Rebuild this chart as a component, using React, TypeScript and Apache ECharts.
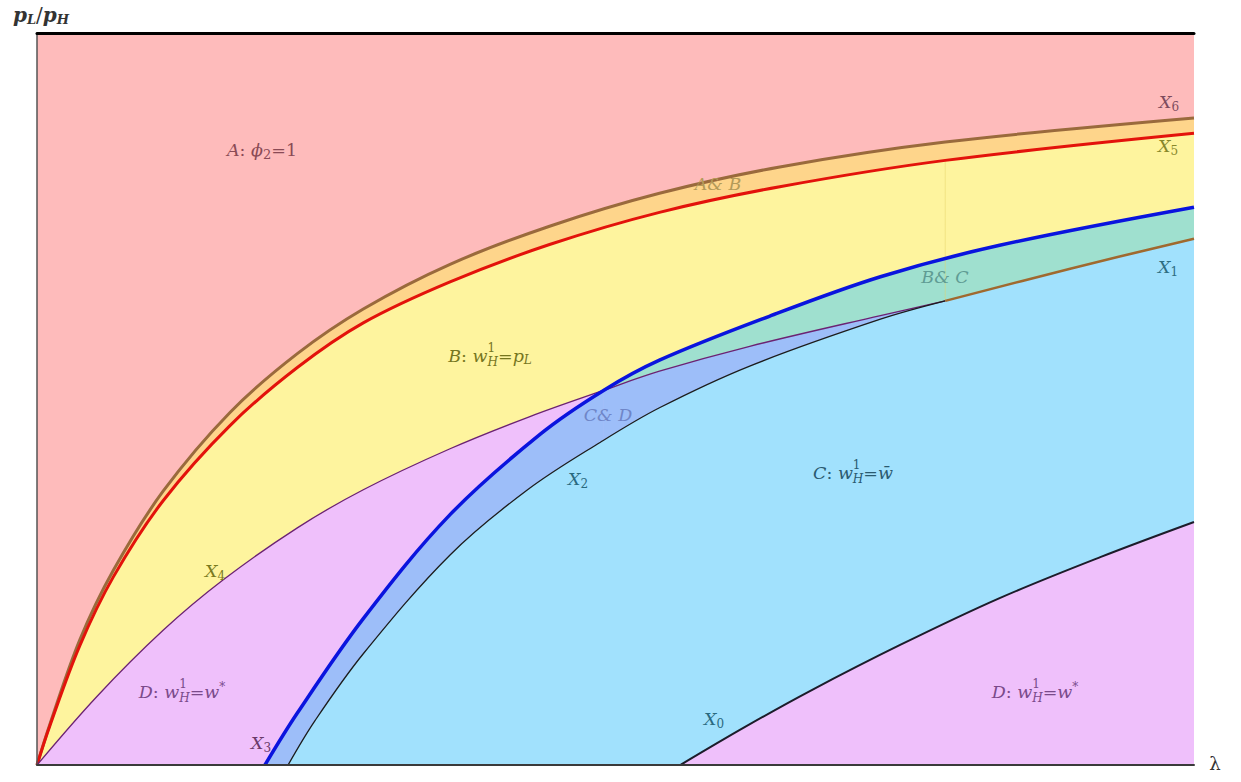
import React, { useEffect, useRef } from 'react';
import * as echarts from 'echarts';

// λ (x) and pL/pH (y)
const X6: number[][] = [[0,0],[0.011,0.055],[0.037,0.171],[0.066,0.266],[0.109,0.374],[0.167,0.482],[0.225,0.562],[0.282,0.623],[0.357,0.684],[0.443,0.736],[0.538,0.781],[0.642,0.817],[0.785,0.851],[1,0.884]];
const X5: number[][] = [[0,0],[0.011,0.053],[0.037,0.163],[0.066,0.257],[0.109,0.361],[0.167,0.464],[0.225,0.543],[0.282,0.604],[0.357,0.66],[0.443,0.711],[0.538,0.755],[0.642,0.79],[0.785,0.826],[1,0.863]];
const X4: number[][] = [[0,0],[0.052,0.094],[0.109,0.184],[0.161,0.253],[0.225,0.324],[0.282,0.376],[0.357,0.432],[0.426,0.476],[0.49,0.512],[0.538,0.538],[0.616,0.572],[0.729,0.614],[0.785,0.634]];
const X2: number[][] = [[0.197,0],[0.225,0.071],[0.282,0.2],[0.357,0.342],[0.435,0.452],[0.49,0.512],[0.538,0.553],[0.633,0.613],[0.729,0.667],[0.832,0.71],[1,0.762]];
const X1: number[][] = [[0.217,0],[0.240,0.06],[0.282,0.152],[0.357,0.287],[0.424,0.376],[0.487,0.441],[0.538,0.488],[0.616,0.545],[0.729,0.609],[0.785,0.634],[0.893,0.678],[1,0.719]];
const X0: number[][] = [[0.556,0],[0.612,0.052],[0.668,0.101],[0.746,0.164],[0.832,0.228],[0.919,0.284],[1,0.332]];
const CROSS_X = 0.49; // X2 meets X4
const TANGENT_X = 0.785; // X4 meets X1
const DIVIDER: number[][] = [[0.785,0.634],[0.785,0.826]];

const C = {
  pink: '#FEBBBB', orange: '#FED58B', yellow: '#FEF49E', teal: '#9FE0CF',
  sky: '#A1E1FD', peri: '#9DBEF9', violet: '#EFC0FB',
};

const FAM = '"DejaVu Serif", "Liberation Serif", serif';
type Seg = { t: string; sz?: number; dy?: number; up?: boolean; hold?: boolean; bold?: boolean };
let ctx: CanvasRenderingContext2D | null = null;
function mathLabel(segs: Seg[], cx: number, cy: number, color: string, base = 17.5) {
  if (!ctx) ctx = document.createElement('canvas').getContext('2d');
  let x = 0;
  const els: any[] = [];
  for (const s of segs) {
    const size = s.sz ?? base;
    const st = s.up ? 'normal' : 'italic';
    const wt = s.bold ? 'bold' : 'normal';
    ctx!.font = `${st} ${wt} ${size}px ${FAM}`;
    const w = ctx!.measureText(s.t).width;
    els.push({
      type: 'text', x, y: s.dy ?? 0, silent: true, z: 100,
      style: { text: s.t, fill: color, fontSize: size, fontStyle: st, fontWeight: wt, fontFamily: FAM, align: 'left', verticalAlign: 'middle' },
    });
    if (!s.hold) x += w;
  }
  return { type: 'group', x: cx - x / 2, y: cy, z: 100, children: els };
}
const wH: Seg[] = [{ t: 'w' }, { t: '1', sz: 12, dy: -8, up: true, hold: true }, { t: 'H', sz: 12, dy: 6 }];
const xl = (n: string): Seg[] => [{ t: 'X' }, { t: n, sz: 12, dy: 5, up: true }];
const dLabel: Seg[] = [{ t: 'D' }, { t: ': ', up: true }, ...wH, { t: '=', up: true }, { t: 'w' }, { t: '*', sz: 12, dy: -5, up: true }];

export default function App() {
  const ref = useRef<HTMLDivElement>(null);
  useEffect(() => {
    document.body.style.margin = '0';
    const chart = echarts.init(ref.current!, null, { renderer: 'svg' });
    const SM = 0.35;
    const fill = (data: number[][], color: string) => ({
      type: 'line', data, smooth: SM, symbol: 'none', silent: true, z: 2,
      lineStyle: { width: 0, opacity: 0 }, areaStyle: { color, opacity: 1, origin: 'start' },
    });
    const line = (data: number[][], color: string, width: number, opacity = 1) => ({
      type: 'line', data, smooth: SM, symbol: 'none', silent: true, z: 3,
      lineStyle: { color, width, opacity },
    });
    const i2 = X2.findIndex((p) => p[0] === CROSS_X);
    const i4 = X4.findIndex((p) => p[0] === CROSS_X);
    const i1 = X1.findIndex((p) => p[0] === TANGENT_X);
    chart.setOption({
      animation: false,
      backgroundColor: '#fff',
      grid: { left: 37, right: 47, top: 33, bottom: 17, show: true, backgroundColor: C.pink, borderWidth: 0 },
      xAxis: [
        { type: 'value', min: 0, max: 1, z: 10, axisLabel: { show: false }, axisTick: { show: false }, splitLine: { show: false },
          axisLine: { show: true, lineStyle: { color: '#3a3a3a', width: 2 } } },
        { type: 'value', position: 'top', min: 0, max: 1, z: 10, axisLabel: { show: false }, axisTick: { show: false }, splitLine: { show: false },
          axisLine: { show: true, lineStyle: { color: '#000', width: 3 } } },
      ],
      yAxis: { type: 'value', min: 0, max: 1, z: 10, axisLabel: { show: false }, axisTick: { show: false }, splitLine: { show: false },
        axisLine: { show: true, lineStyle: { color: '#555', width: 1.5 } } },
      series: [
        fill(X6, C.orange),
        fill(X5, C.yellow),
        fill(X2, C.teal),
        fill(X4, C.violet),
        fill(X2.slice(0, i2 + 1), C.peri),
        fill(X4.slice(i4), C.peri),
        fill(X1, C.sky),
        fill(X0, C.violet),
        line(DIVIDER, '#e8d66a', 1, 0.5),
        line(X6, '#9a6a3c', 3),
        line(X5, '#e3120b', 3),
        line(X4, '#6b2272', 1.3),
        line(X1.slice(0, i1 + 1), '#1c1c1c', 1.3),
        line(X1.slice(i1), '#a0692f', 2.5),
        line(X2, '#0a14de', 3.5),
        line(X0, '#1c1c2a', 2),
      ],
      graphic: [
        mathLabel([{ t: 'A' }, { t: ': ', up: true }, { t: 'ϕ' }, { t: '2', sz: 13, dy: 4, up: true }, { t: '=1', up: true }], 262, 150, '#8a4a55'),
        mathLabel([{ t: 'A& B' }], 718, 184, '#b39a58'),
        mathLabel(xl('6'), 1169, 102, '#7d4b5e'),
        mathLabel(xl('5'), 1168, 146, '#87872a'),
        mathLabel(xl('1'), 1168, 267, '#2e6e82'),
        mathLabel([{ t: 'B& C' }], 945, 277, '#5f9c94'),
        mathLabel([{ t: 'B' }, { t: ': ', up: true }, ...wH, { t: '=', up: true }, { t: 'p' }, { t: 'L', sz: 12, dy: 4 }], 490, 356, '#76761e'),
        mathLabel([{ t: 'C& D' }], 608, 415, '#6f86c8'),
        mathLabel(xl('2'), 578, 479, '#2a6a80'),
        mathLabel([{ t: 'C' }, { t: ': ', up: true }, ...wH, { t: '=', up: true }, { t: 'w\u0304' }], 853, 473, '#2a5a70'),
        mathLabel(xl('4'), 215, 571, '#7b7b1e'),
        mathLabel(dLabel, 182, 692, '#7a4a8a'),
        mathLabel(dLabel, 1035, 692, '#7a4a8a'),
        mathLabel(xl('3'), 261, 743, '#6a3a6a'),
        mathLabel(xl('0'), 714, 719, '#2a6a80'),
        mathLabel([{ t: 'p', bold: true }, { t: 'L', sz: 13, dy: 4, bold: true }, { t: '/', up: true }, { t: 'p', bold: true }, { t: 'H', sz: 13, dy: 4, bold: true }], 41, 15, '#333', 20),
        mathLabel([{ t: 'λ', up: true }], 1215, 763, '#333', 18),
      ],
    });
    return () => chart.dispose();
  }, []);
  return <div ref={ref} style={{ position: 'absolute', left: 0, top: 0, width: 1241, height: 782 }} />;
}
